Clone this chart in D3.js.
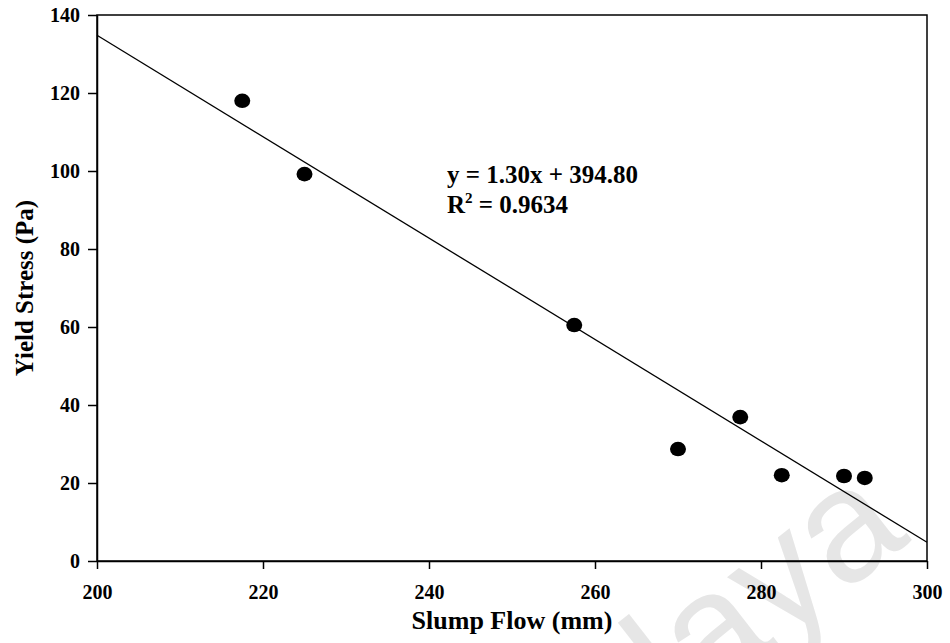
<!DOCTYPE html>
<html><head><meta charset="utf-8">
<script src="https://cdn.jsdelivr.net/npm/d3@7"></script>
<style>body{margin:0;background:#fff}svg{display:block}text{font-family:"Liberation Serif","Times New Roman",serif;font-weight:bold}</style>
</head><body><svg id="c" width="950" height="643"></svg>
<script>
const slumpFlow = [217.5, 225, 257.5, 270, 277.5, 282.5, 290, 292.5];
const yieldStress = [118, 99.2, 60.5, 28.7, 36.9, 22, 21.8, 21.3];
const xTicks = [200, 220, 240, 260, 280, 300];
const yTicks = [0, 20, 40, 60, 80, 100, 120, 140];
const fitSlope = -1.30, fitIntercept = 394.80;
const fitRange = [200, 300];

const svg = d3.select("#c");
const m = {l:97, r:23, t:15, b:82};
const W = 950, H = 643;
const x = d3.scaleLinear().domain([200,300]).range([m.l, W-m.r]);
const y = d3.scaleLinear().domain([0,140]).range([H-m.b, m.t]);

// watermark
svg.append("text").attr("transform","translate(912,540) rotate(-38)")
  .attr("text-anchor","end").style("font-family","Liberation Sans, Arial, sans-serif")
  .style("font-weight","normal").style("font-size","160px").attr("fill","#e6e6e6").text("Malaya");

// frame
svg.append("rect").attr("x",m.l).attr("y",m.t).attr("width",W-m.r-m.l).attr("height",H-m.b-m.t)
  .attr("fill","none").attr("stroke","#000").attr("stroke-width",1.5);

const xa = svg.append("g").attr("transform",`translate(0,${H-m.b})`)
  .call(d3.axisBottom(x).tickValues(xTicks).tickSize(8).tickPadding(16).tickSizeOuter(0));
const ya = svg.append("g").attr("transform",`translate(${m.l},0)`)
  .call(d3.axisLeft(y).tickValues(yTicks).tickSize(9).tickPadding(8).tickSizeOuter(0));
[xa,ya].forEach(a=>{
  a.select(".domain").attr("stroke","#000").attr("stroke-width",1.5);
  a.selectAll(".tick line").attr("stroke","#000").attr("stroke-width",1.5);
  a.selectAll(".tick text").attr("fill","#000").style("font-size","20px").style("font-family","Liberation Serif, serif").style("font-weight","bold");
});

// fit line
svg.append("line").attr("x1",x(fitRange[0])).attr("y1",y(fitSlope*fitRange[0]+fitIntercept))
  .attr("x2",x(fitRange[1])).attr("y2",y(fitSlope*fitRange[1]+fitIntercept))
  .attr("stroke","#000").attr("stroke-width",1.3);

svg.append("g").selectAll("ellipse").data(slumpFlow).join("ellipse")
  .attr("cx",(d)=>x(d)).attr("cy",(d,i)=>y(yieldStress[i])).attr("rx",8).attr("ry",7.3).attr("fill","#000");

// equation
svg.append("text").attr("x",447).attr("y",183).style("font-size","25px").text("y = 1.30x + 394.80");
const r2 = svg.append("text").attr("x",447).attr("y",213).style("font-size","25px");
r2.append("tspan").text("R");
r2.append("tspan").attr("dy",-10).style("font-size","15px").text("2");
r2.append("tspan").attr("dy",10).text(" = 0.9634");

// axis titles
svg.append("text").attr("x",(m.l+W-m.r)/2).attr("y",629).attr("text-anchor","middle").style("font-size","26px").text("Slump Flow (mm)");
svg.append("text").attr("transform",`translate(33,${(m.t+H-m.b)/2}) rotate(-90)`).attr("text-anchor","middle").style("font-size","25px").text("Yield Stress (Pa)");
</script></body></html>
